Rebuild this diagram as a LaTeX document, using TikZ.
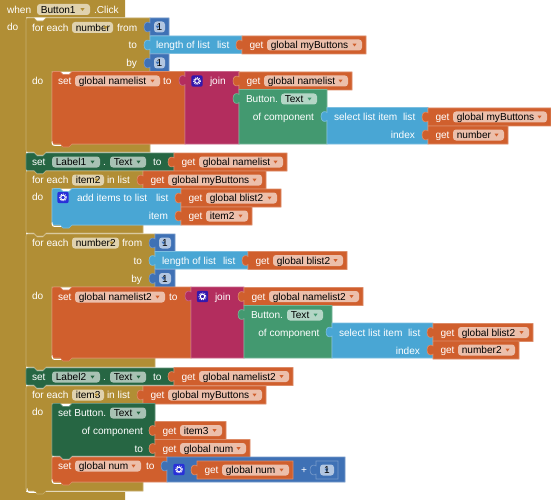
\documentclass[tikz,border=0pt]{standalone}
\usepackage{fontspec}
\setmainfont{Liberation Sans}
\definecolor{cgold}{HTML}{B18E35}
\definecolor{corange}{HTML}{D05F2D}
\definecolor{cmag}{HTML}{B32D5E}
\definecolor{cblue}{HTML}{49A6D4}
\definecolor{cgreen}{HTML}{439970}
\definecolor{cdark}{HTML}{266643}
\definecolor{cmath}{HTML}{3F71B5}
\definecolor{cicona}{HTML}{3318AE}
\definecolor{ciconb}{HTML}{2830D8}
\newcounter{nn}
\tikzset{
  x=1pt,y=-1pt,
  lbl/.style={text=white,font=\fontsize{10.1}{12}\selectfont,inner sep=0pt,outer sep=0pt},
  ftxt/.style={text=black,font=\fontsize{10.1}{12}\selectfont,inner sep=0pt,outer sep=0pt},
}
% white label left aligned: x, row centre, text
\newcommand{\lb}[3]{\stepcounter{nn}\node[lbl,anchor=base west] (n\thenn) at (#1,{#2+3.6}) {#3};}
% white label right aligned
\newcommand{\rb}[3]{\stepcounter{nn}\node[lbl,anchor=base east] (n\thenn) at (#1,{#2+3.6}) {#3};}
% field: x1,x2,yc,text,colour
\newcommand{\fd}[5]{\fill[#5!40!white,rounded corners=3] (#1,{#3-5.5}) rectangle (#2,{#3+5.5});
  \stepcounter{nn}\node[ftxt,anchor=base west] (n\thenn) at ({#1+3.8},{#3+3.6}) {#4};
  \fill[#5] ({#2-9.5},{#3-1.3}) -- ({#2-5.5},{#3-1.3}) -- ({#2-7.5},{#3+1.5}) -- cycle;}
% value block: x1,y1,x2,y2,colour
\newcommand{\vb}[5]{\draw[draw=#5!72!white,fill=#5,line width=.6]
  (#1,#2) -- (#3,#2) -- (#3,#4) -- (#1,#4) -- (#1,{#2+13})
  .. controls ({#1-2},{#2+15}) and ({#1-6},{#2+14}) .. ({#1-6},{#2+9})
  .. controls ({#1-6},{#2+4}) and ({#1-2},{#2+3}) .. (#1,{#2+5}) -- cycle;}
% statement block: x1,y1,x2,y2,colour
\newcommand{\st}[5]{\draw[draw=#5!72!white,fill=#5,line width=.6]
  (#1,{#2+4}) .. controls (#1,#2) .. ({#1+4},#2) -- ({#1+8},#2) -- ({#1+11},{#2+3}) -- ({#1+17},{#2+3}) -- ({#1+20},#2)
  -- (#3,#2) -- (#3,#4) -- ({#1+20},#4) -- ({#1+17},{#4+3}) -- ({#1+11},{#4+3}) -- ({#1+8},#4) -- ({#1+4},#4)
  .. controls (#1,#4) .. (#1,{#4-4}) -- cycle;}
% C-shaped block: x1,y1,x2,body top,body bottom,bottom
\newcommand{\cb}[6]{\draw[draw=cgold!72!white,fill=cgold,line width=.6]
  (#1,{#2+4}) .. controls (#1,#2) .. ({#1+4},#2) -- ({#1+8},#2) -- ({#1+11},{#2+3}) -- ({#1+17},{#2+3}) -- ({#1+20},#2)
  -- (#3,#2) -- (#3,#4) -- ({#1+26},#4) -- ({#1+26},#5) -- (#3,#5) -- (#3,#6) -- ({#1+20},#6) -- ({#1+17},{#6+3}) -- ({#1+11},{#6+3}) -- ({#1+8},#6) -- ({#1+4},#6)
  .. controls (#1,#6) .. (#1,{#6-4}) -- cycle;}
% get block: x1,x2,yc,text
\newcommand{\gt}[4]{\vb{#1}{#3-9}{#2}{#3+9}{corange}\lb{#1+7.5}{#3}{get}\fd{#1+25}{#2-4}{#3}{#4}{corange}}
% number block: x1,x2,y1
\newcommand{\nm}[3]{\vb{#1}{#3}{#2}{#3+17.5}{cmath}\fd{#1+4}{#2-4}{#3+9}{}{cmath}
  \stepcounter{nn}\node[ftxt,anchor=base] (n\thenn) at ({(#1+#2)/2},{#3+12.6}) {1};}
% mutator icon: x,y centre,colour
\newcommand{\ic}[3]{\fill[#3,rounded corners=2] ({#1-5.7},{#2-5.7}) rectangle ({#1+5.7},{#2+5.7});
  \draw[white,line width=1] (#1,#2) circle[radius=2.3];
  \draw[white,line width=.9,dash pattern=on .9pt off 1.1pt] (#1,#2) circle[radius=3.5];}
% white sliver under a rounded corner
\newcommand{\cn}[2]{\draw[white,line width=1] (#1,{#2-2.5}) .. controls ({#1+.5},{#2+1.3}) .. ({#1+4},{#2+1.3}) -- ({#1+9},{#2+1.3});}
\begin{document}
\begin{tikzpicture}
\useasboundingbox (0,0) rectangle (551,500);
\fill[white] (0,0) rectangle (551,500);
% event block
\fill[cgold] (0,0) -- (125,0) -- (125,17.5) -- (26,17.5) -- (26,492) -- (125,492) -- (125,500) -- (0,500) -- cycle;
\lb{7}{9.5}{when}\fd{37}{90}{9.5}{Button1}{cgold}\lb{94}{9.5}{.Click}
\lb{7}{27}{do}
% for each number
\cb{26}{18}{150}{71.5}{144}{152}
\lb{32}{27.5}{for each}\fd{72}{113}{27.5}{number}{cgold}\lb{117}{27.5}{from}
\rb{137}{45}{to}\rb{137}{63}{by}\lb{32}{81}{do}
\nm{150}{169}{18}
\vb{150}{36}{242}{53.5}{cblue}\lb{156}{45}{length of list}\lb{217}{45}{list}
\gt{242}{366}{45}{global myButtons}
\nm{150}{169}{54}
\st{52}{71.5}{185}{144}{corange}\cn{52}{144}
\lb{58}{81}{set}\fd{75}{160}{81}{global namelist}{corange}\lb{163}{81}{to}
\vb{185}{71.5}{239}{144}{cmag}\ic{197}{81}{cicona}\lb{210}{81}{join}
\gt{239}{352}{81}{global namelist}
\vb{239}{89.5}{327}{144}{cgreen}\lb{246}{99}{Button.}\fd{281}{317}{99}{Text}{cgreen}\rb{314}{117}{of component}
\vb{327}{107.5}{428}{144}{cblue}\lb{334}{117}{select list item}\lb{403}{117}{list}\rb{415}{135}{index}
\gt{428}{551}{117}{global myButtons}
\gt{428}{508}{135}{number}
% set Label1
\st{26}{153}{174}{170.5}{cdark}
\lb{32}{162}{set}\fd{52}{100}{162}{Label1}{cdark}\lb{103}{162}{.}\fd{110}{146}{162}{Text}{cdark}\lb{153}{162}{to}
\gt{174}{287}{162}{global namelist}
% for each item2
\cb{26}{171}{143}{188.5}{225}{233}
\lb{32}{180}{for each}\fd{72}{104}{180}{item2}{cgold}\lb{107}{180}{in list}
\gt{143}{266}{180}{global myButtons}
\lb{32}{197}{do}
\st{52}{188.5}{181}{225}{cblue}\cn{52}{225}
\ic{63}{197.5}{ciconb}\lb{77}{198}{add items to list}\lb{156}{198}{list}\rb{168}{216}{item}
\gt{181}{281}{198}{global blist2}
\gt{181}{252}{216}{item2}
% for each number2
\cb{26}{234}{155}{287}{358}{367}
\lb{32}{243}{for each}\fd{72}{119}{243}{number2}{cgold}\lb{122}{243}{from}
\rb{142}{261}{to}\rb{142}{279}{by}\lb{32}{296}{do}
\nm{155}{175}{234}
\vb{155}{251.5}{248}{269}{cblue}\lb{162}{261}{length of list}\lb{223}{261}{list}
\gt{248}{347}{260.5}{global blist2}
\nm{155}{175}{269.5}
\st{52}{287}{191}{358}{corange}\cn{52}{358}
\lb{58}{297}{set}\fd{75}{165}{297}{global namelist2}{corange}\lb{169}{297}{to}
\vb{191}{287}{244}{358}{cmag}\ic{202.5}{296.5}{cicona}\lb{215}{297}{join}
\gt{244}{363}{296.5}{global namelist2}
\vb{244}{305.5}{332}{358}{cgreen}\lb{251}{315}{Button.}\fd{287}{323}{315}{Text}{cgreen}\rb{319.5}{333}{of component}
\vb{332}{323}{433}{358}{cblue}\lb{339}{333}{select list item}\lb{408}{333}{list}\rb{420}{351}{index}
\gt{433}{533}{332.5}{global blist2}
\gt{433}{519}{350}{number2}
% set Label2
\st{26}{368}{174}{385}{cdark}
\lb{32}{377}{set}\fd{52}{100}{377}{Label2}{cdark}\lb{103}{377}{.}\fd{110}{146}{377}{Text}{cdark}\lb{153}{377}{to}
\gt{174}{293}{376.5}{global namelist2}
% for each item3
\cb{26}{386}{143}{403.5}{482}{491}
\cn{27}{491}
\lb{32}{395}{for each}\fd{72}{104}{395}{item3}{cgold}\lb{107}{395}{in list}
\gt{143}{266}{395}{global myButtons}
\lb{32}{412}{do}
\st{52}{403.5}{155}{456}{cdark}
\lb{58}{413}{set Button.}\fd{110}{146}{413}{Text}{cdark}\rb{143}{431}{of component}\rb{143}{449}{to}
\gt{155}{226}{430.5}{item3}
\gt{155}{250}{448.5}{global num}
\st{52}{457}{167}{482}{corange}\cn{52}{482}
\lb{58}{466}{set}\fd{75}{141}{466}{global num}{corange}\lb{146}{466}{to}
\vb{167}{457}{345}{482}{cmath}
\ic{179}{469.5}{ciconb}
\gt{197}{293}{470}{global num}
\lb{301}{470}{+}
\vb{316}{461}{338}{479}{cmath}\fd{320}{334}{470}{}{cmath}
\stepcounter{nn}\node[ftxt,anchor=base] (n\thenn) at (327,473.6) {1};
\end{tikzpicture}
\end{document}
